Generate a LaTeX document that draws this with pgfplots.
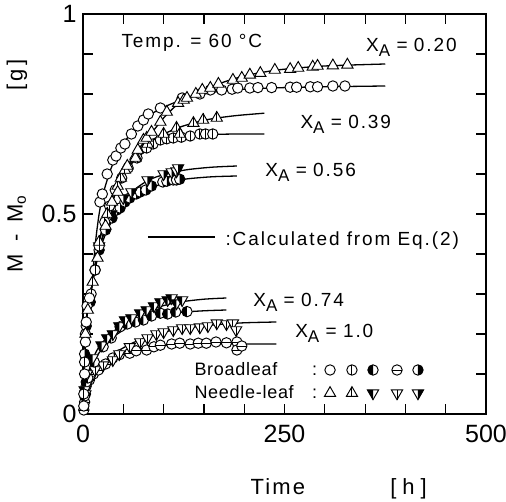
\documentclass[border=0pt]{standalone}
\usepackage{fontspec}
\setmainfont{Liberation Sans}
\newfontfamily\spaced{Liberation Sans}[LetterSpace=10]
\newfontfamily\keyf{Liberation Sans}[LetterSpace=4]
\usepackage{pgfplots}
\pgfplotsset{compat=1.18}

% plot marks of the figure: circles for broadleaf, triangles for needle-leaf
\newcommand\cpath{\pgfpathcircle{\pgfpointorigin}{\pgfplotmarksize}}
\newcommand\tupath{\pgfpathmoveto{\pgfpoint{0pt}{1.25\pgfplotmarksize}}%
  \pgfpathlineto{\pgfpoint{-1.08\pgfplotmarksize}{-0.625\pgfplotmarksize}}%
  \pgfpathlineto{\pgfpoint{1.08\pgfplotmarksize}{-0.625\pgfplotmarksize}}\pgfpathclose}
\newcommand\tdpath{\pgfpathmoveto{\pgfpoint{0pt}{-1.25\pgfplotmarksize}}%
  \pgfpathlineto{\pgfpoint{-1.08\pgfplotmarksize}{0.625\pgfplotmarksize}}%
  \pgfpathlineto{\pgfpoint{1.08\pgfplotmarksize}{0.625\pgfplotmarksize}}\pgfpathclose}
\pgfdeclareplotmark{cO}{\pgfsetfillcolor{white}\cpath\pgfusepathqfillstroke}
\pgfdeclareplotmark{cV}{\pgfsetfillcolor{white}\cpath\pgfusepathqfillstroke
  \pgfpathmoveto{\pgfpoint{0pt}{\pgfplotmarksize}}\pgfpathlineto{\pgfpoint{0pt}{-\pgfplotmarksize}}\pgfusepathqstroke}
\pgfdeclareplotmark{cH}{\pgfsetfillcolor{white}\cpath\pgfusepathqfillstroke
  \pgfpathmoveto{\pgfpoint{\pgfplotmarksize}{0pt}}\pgfpathlineto{\pgfpoint{-\pgfplotmarksize}{0pt}}\pgfusepathqstroke}
\pgfdeclareplotmark{cL}{\pgfsetfillcolor{white}\cpath\pgfusepathqfill
  \pgfsetfillcolor{black}\pgfpathmoveto{\pgfpoint{0pt}{\pgfplotmarksize}}\pgfpatharc{90}{270}{\pgfplotmarksize}\pgfpathclose\pgfusepathqfill
  \cpath\pgfusepathqstroke}
\pgfdeclareplotmark{cR}{\pgfsetfillcolor{white}\cpath\pgfusepathqfill
  \pgfsetfillcolor{black}\pgfpathmoveto{\pgfpoint{0pt}{\pgfplotmarksize}}\pgfpatharc{90}{-90}{\pgfplotmarksize}\pgfpathclose\pgfusepathqfill
  \cpath\pgfusepathqstroke}
\pgfdeclareplotmark{tU}{\pgfsetfillcolor{white}\tupath\pgfusepathqfillstroke}
\pgfdeclareplotmark{tUV}{\pgfsetfillcolor{white}\tupath\pgfusepathqfillstroke
  \pgfpathmoveto{\pgfpoint{0pt}{1.25\pgfplotmarksize}}\pgfpathlineto{\pgfpoint{0pt}{-0.625\pgfplotmarksize}}\pgfusepathqstroke}
\pgfdeclareplotmark{tDV}{\pgfsetfillcolor{white}\tdpath\pgfusepathqfillstroke
  \pgfpathmoveto{\pgfpoint{0pt}{-1.25\pgfplotmarksize}}\pgfpathlineto{\pgfpoint{0pt}{0.625\pgfplotmarksize}}\pgfusepathqstroke}
\pgfdeclareplotmark{tDL}{\pgfsetfillcolor{white}\tdpath\pgfusepathqfill
  \pgfsetfillcolor{black}\pgfpathmoveto{\pgfpoint{-1.08\pgfplotmarksize}{0.625\pgfplotmarksize}}%
  \pgfpathlineto{\pgfpoint{0pt}{0.625\pgfplotmarksize}}\pgfpathlineto{\pgfpoint{0pt}{-1.25\pgfplotmarksize}}\pgfpathclose\pgfusepathqfill
  \tdpath\pgfusepathqstroke}
\pgfdeclareplotmark{tDR}{\pgfsetfillcolor{white}\tdpath\pgfusepathqfill
  \pgfsetfillcolor{black}\pgfpathmoveto{\pgfpoint{1.08\pgfplotmarksize}{0.625\pgfplotmarksize}}%
  \pgfpathlineto{\pgfpoint{0pt}{0.625\pgfplotmarksize}}\pgfpathlineto{\pgfpoint{0pt}{-1.25\pgfplotmarksize}}\pgfpathclose\pgfusepathqfill
  \tdpath\pgfusepathqstroke}

\pgfplotsset{
  dat/.style={only marks, mark size=5.2pt, mark options={line width=0.95pt, solid}},
  fit/.style={smooth, no marks, line width=1.3pt, black},
}
\newcommand\lab{\spaced\fontsize{19}{19}\selectfont}
\newcommand\keyfont{\keyf\fontsize{18}{18}\selectfont}
\newcommand\xa[1]{X\raisebox{-5pt}{\fontsize{17}{17}\selectfont A}\,\,=\,\,#1}

\begin{document}
\begin{tikzpicture}
\begin{axis}[
  scale only axis, width=403pt, height=400pt,
  xmin=0, xmax=500, ymin=0, ymax=1,
  xtick={0,250,500}, ytick={0,0.5,1},
  minor xtick={50,100,150,200,300,350,400,450},
  minor ytick={0.1,0.2,0.3,0.4,0.6,0.7,0.8,0.9},
  tick align=inside, major tick length=10pt, minor tick length=10pt,
  every tick/.style={line width=1.2pt, black},
  axis line style={line width=1.5pt},
  ticklabel style={font=\fontsize{25}{25}\selectfont},
  /pgf/number format/assume math mode=true,
  yticklabel style={xshift=-3pt},
  xticklabel style={yshift=-8pt},
  clip=false,
]
% ---- curves calculated from Eq.(2)
% X_A = 0.20
\addplot[fit] coordinates {(0,0) (1,0.07) (2,0.14) (3,0.19) (5,0.25) (8,0.29) (11,0.32) (15,0.42) (20,0.50) (25,0.55) (30,0.585) (35,0.615) (45,0.66) (55,0.69) (70,0.725) (85,0.75) (100,0.767) (125,0.787) (150,0.80) (175,0.808) (200,0.812) (250,0.816) (300,0.818) (375,0.82)};
\addplot[fit] coordinates {(0,0) (1,0.07) (2,0.14) (3,0.19) (5,0.25) (8,0.29) (11,0.32) (15,0.36) (20,0.41) (25,0.45) (30,0.49) (40,0.55) (50,0.60) (60,0.635) (70,0.665) (80,0.69) (90,0.715) (100,0.74) (115,0.77) (130,0.79) (150,0.81) (175,0.83) (200,0.845) (225,0.855) (250,0.862) (300,0.87) (375,0.875)};
% X_A = 0.39
\addplot[fit] coordinates {(0,0) (1,0.07) (2,0.14) (3,0.19) (5,0.25) (8,0.29) (11,0.32) (15,0.37) (20,0.43) (30,0.51) (40,0.56) (50,0.60) (60,0.625) (70,0.645) (80,0.662) (90,0.675) (100,0.684) (120,0.692) (150,0.698) (190,0.70) (225,0.70)};
\addplot[fit] coordinates {(0,0) (1,0.07) (2,0.14) (3,0.19) (5,0.25) (8,0.29) (11,0.32) (15,0.37) (20,0.43) (30,0.50) (40,0.55) (50,0.595) (60,0.63) (70,0.655) (80,0.675) (90,0.69) (100,0.70) (120,0.717) (140,0.729) (160,0.738) (190,0.746) (225,0.752)};
% X_A = 0.56
\addplot[fit] coordinates {(0,0) (1,0.07) (2,0.14) (3,0.19) (5,0.25) (8,0.29) (11,0.32) (15,0.365) (20,0.405) (30,0.46) (40,0.495) (50,0.52) (60,0.538) (75,0.557) (90,0.57) (110,0.581) (130,0.588) (160,0.593) (191,0.595)};
\addplot[fit] coordinates {(0,0) (1,0.07) (2,0.14) (3,0.19) (5,0.25) (8,0.29) (11,0.32) (15,0.37) (20,0.415) (30,0.47) (40,0.505) (50,0.535) (60,0.555) (75,0.577) (90,0.592) (110,0.603) (130,0.611) (160,0.617) (191,0.62)};
% X_A = 0.74
\addplot[fit] coordinates {(0,0) (2,0.045) (5,0.085) (10,0.118) (15,0.138) (20,0.153) (30,0.177) (40,0.196) (50,0.21) (65,0.226) (80,0.238) (100,0.248) (120,0.254) (150,0.258) (178,0.26)};
\addplot[fit] coordinates {(0,0) (2,0.05) (5,0.09) (10,0.125) (15,0.15) (20,0.168) (30,0.192) (40,0.21) (50,0.226) (65,0.244) (80,0.258) (100,0.271) (120,0.28) (150,0.287) (178,0.29)};
% X_A = 1.0
\addplot[fit] coordinates {(0,0) (2,0.035) (5,0.063) (10,0.085) (15,0.1) (20,0.112) (30,0.128) (40,0.14) (55,0.153) (70,0.162) (90,0.169) (110,0.172) (140,0.174) (180,0.175) (240,0.175)};
\addplot[fit] coordinates {(0,0) (2,0.035) (5,0.065) (10,0.09) (15,0.106) (20,0.118) (30,0.137) (40,0.153) (55,0.171) (70,0.185) (90,0.199) (110,0.209) (140,0.218) (170,0.224) (200,0.228) (240,0.23)};

% ---- measured points
\addplot[dat, mark=cH] coordinates {(1,0.01) (2,0.03) (3,0.05) (4,0.07) (8,0.085) (13,0.1) (19,0.11) (28,0.125) (37,0.14) (45,0.148) (58,0.152) (66,0.158) (79,0.16) (88,0.168) (96,0.172) (110,0.175) (120,0.177) (133,0.175) (143,0.177) (153,0.177) (165,0.18) (178,0.178) (191,0.18) (191,0.16) (197,0.17)};
\addplot[dat, mark=tDV] coordinates {(3,0.05) (8,0.085) (15,0.11) (25,0.122) (37,0.135) (45,0.15) (58,0.168) (71,0.18) (80,0.19) (91,0.2) (100,0.205) (112,0.21) (123,0.215) (133,0.215) (145,0.217) (155,0.22) (166,0.227) (178,0.225) (186,0.227) (190,0.21)};
\addplot[dat, mark=cL] coordinates {(2,0.045) (4,0.08) (6,0.09) (14,0.13) (25,0.168) (35,0.19) (46,0.218) (55,0.225) (65,0.23) (75,0.235) (85,0.245) (96,0.252) (105,0.25) (115,0.255) (129,0.256)};
\addplot[dat, mark=tDL] coordinates {(2,0.06) (5,0.1) (12,0.14) (23,0.172) (30,0.19) (37,0.2) (45,0.22) (52,0.235) (60,0.24) (71,0.252) (79,0.26) (88,0.27) (96,0.28) (105,0.285) (110,0.29) (116,0.277) (123,0.285)};
\addplot[dat, mark=cR] coordinates {(2,0.15) (4,0.22) (9,0.28) (15,0.36) (20,0.41) (28,0.46) (36,0.49) (42,0.51) (46,0.515) (52,0.53) (58,0.54) (66,0.55) (71,0.555) (78,0.56) (85,0.57) (99,0.58) (104,0.582) (112,0.585) (116,0.585) (120,0.587)};
\addplot[dat, mark=tDR] coordinates {(20,0.42) (35,0.5) (50,0.54) (60,0.555) (80,0.585) (100,0.6) (110,0.605) (116,0.607) (118,0.615)};
\addplot[dat, mark=cV] coordinates {(1,0.05) (2,0.13) (3,0.2) (10,0.3) (15,0.36) (20,0.42) (27,0.48) (33,0.52) (40,0.56) (48,0.59) (56,0.615) (67,0.64) (79,0.665) (87,0.675) (96,0.685) (104,0.688) (112,0.69) (122,0.692) (133,0.695) (145,0.70) (152,0.70) (161,0.70)};
\addplot[dat, mark=tUV] coordinates {(12,0.33) (20,0.43) (30,0.5) (43,0.57) (47,0.59) (52,0.61) (65,0.645) (80,0.675) (100,0.70) (116,0.715) (120,0.70) (137,0.727) (149,0.735) (166,0.74)};
\addplot[dat, mark=cO] coordinates {(1,0.02) (2,0.1) (3,0.18) (4,0.23) (5,0.27) (8,0.29) (21,0.53) (24,0.55) (30,0.6) (37,0.635) (41,0.645) (47,0.665) (52,0.675) (60,0.70) (68,0.72) (75,0.735) (81,0.75) (96,0.765) (123,0.79) (145,0.80) (158,0.81) (172,0.81) (185,0.812) (192,0.815) (207,0.815) (217,0.816) (234,0.816) (257,0.817) (265,0.817) (282,0.818) (291,0.818) (310,0.82) (325,0.82)};
\addplot[dat, mark=tU] coordinates {(3,0.2) (6,0.26) (18,0.39) (28,0.47) (36,0.53) (43,0.555) (55,0.62) (65,0.64) (68,0.66) (75,0.685) (79,0.69) (85,0.705) (96,0.73) (104,0.755) (118,0.777) (125,0.785) (129,0.79) (140,0.8) (148,0.81) (158,0.815) (168,0.825) (186,0.835) (197,0.84) (207,0.848) (220,0.852) (238,0.86) (257,0.862) (267,0.865) (285,0.868) (291,0.87) (310,0.871) (328,0.873)};

% ---- key of the symbols (broadleaf row, needle-leaf row)
\addplot[dat, mark=cO] coordinates {(306.5,0.11)};
\addplot[dat, mark=cV] coordinates {(333.7,0.11)};
\addplot[dat, mark=cL] coordinates {(359.8,0.11)};
\addplot[dat, mark=cH] coordinates {(389.6,0.11)};
\addplot[dat, mark=cR] coordinates {(415.6,0.11)};
\addplot[dat, mark=tU] coordinates {(306.5,0.052)};
\addplot[dat, mark=tUV] coordinates {(333.7,0.052)};
\addplot[dat, mark=tDL] coordinates {(359.8,0.052)};
\addplot[dat, mark=tDV] coordinates {(389.6,0.052)};
\addplot[dat, mark=tDR] coordinates {(415.6,0.052)};

% ---- texts
\node[anchor=base west, font=\lab] at (axis cs:43.4,0.915) {Temp. = 60 °C};
\node[anchor=base west, font=\lab] at (axis cs:347,0.905) {\xa{0.20}};
\node[anchor=base west, font=\lab] at (axis cs:265.5,0.7125) {\xa{0.39}};
\node[anchor=base west, font=\lab] at (axis cs:222,0.5925) {\xa{0.56}};
\node[anchor=base west, font=\lab] at (axis cs:207,0.2675) {\xa{0.74}};
\node[anchor=base west, font=\lab] at (axis cs:259,0.19) {\xa{1.0}};
\draw[line width=1.3pt] (axis cs:80.6,0.4425) -- (axis cs:163.8,0.4425);
\node[anchor=base west, font=\lab] at (axis cs:172.5,0.42) {:Calculated from Eq.(2)};
\node[anchor=base west, font=\keyfont] at (axis cs:134,0.095) {Broadleaf};
\node[anchor=base west, font=\keyfont] at (axis cs:280,0.095) {:};
\node[anchor=base west, font=\keyfont] at (axis cs:134,0.038) {Needle-leaf};
\node[anchor=base west, font=\keyfont] at (axis cs:280,0.038) {:};
\node[xshift=-66pt, rotate=90, font=\spaced\fontsize{22}{22}\selectfont] at (rel axis cs:0,0.62)
  {M\hspace{12pt}-\hspace{12pt}M\textsubscript{o}\hspace{105pt}[\hspace{3pt}g\hspace{3pt}]};
\node[anchor=base west, font=\spaced\fontsize{22}{22}\selectfont] at (axis cs:203.5,-0.2025) {Time};
\node[anchor=base west, font=\spaced\fontsize{22}{22}\selectfont] at (axis cs:377,-0.2025) {[\hspace{6pt}h\hspace{6pt}]};
\coordinate (sw) at (rel axis cs:0,0);
\coordinate (ne) at (rel axis cs:1,1);
\end{axis}
\pgfresetboundingbox
\path ([shift={(-83pt,-88pt)}]sw) rectangle ([shift={(20pt,14pt)}]ne);
\end{tikzpicture}
\end{document}
